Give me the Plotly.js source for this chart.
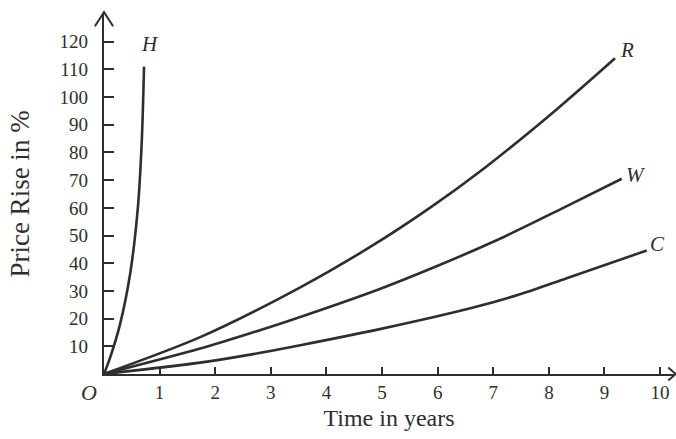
<!DOCTYPE html>
<html>
<head>
<meta charset="utf-8">
<script src="https://cdn.plot.ly/plotly-3.0.1.min.js"></script>
<style>html,body{margin:0;padding:0;background:#fff;}#chart{width:676px;height:439px;}</style>
</head>
<body>
<div id="chart"></div>
<script>
// Curve data (time in years, price rise in %)
const hX = [0, 0.11, 0.29, 0.47, 0.61, 0.68, 0.72];
const hY = [0, 5.9, 18.1, 36.2, 60.3, 84.4, 111];
const rX = [0, 1.73, 3.53, 4.78, 5.86, 6.85, 8.16, 9.19];
const rY = [0, 13.3, 31.3, 45.8, 60, 74.5, 95.9, 114];
const wX = [0, 1.73, 2.63, 3.53, 4.96, 5.86, 7.06, 8.26, 9.31];
const wY = [0, 9.2, 14.7, 20.6, 30.7, 37.9, 48.3, 60, 70.5];
const cX = [0, 1.73, 2.63, 3.53, 4.96, 6.64, 7.48, 8.32, 9.76];
const cY = [0, 4.1, 7.0, 10.4, 16.2, 24, 28.8, 34.6, 44.6];
const curveNames = ["H", "R", "W", "C"];
const xTicks = [1, 2, 3, 4, 5, 6, 7, 8, 9, 10];
const yTicks = [10, 20, 30, 40, 50, 60, 70, 80, 90, 100, 110, 120];

const ink = "#2e2e2e";
const serif = "'Liberation Serif', 'DejaVu Serif', serif";
const series = [[hX, hY], [rX, rY], [wX, wY], [cX, cY]];

const traces = series.map((s, i) => ({
  x: s[0], y: s[1], name: curveNames[i], type: "scatter", mode: "lines",
  line: {color: ink, width: 2.6, shape: "spline", smoothing: 0.8},
  hoverinfo: "skip", showlegend: false, cliponaxis: false
}));

// label positions: just beyond each curve's end
const labelPos = [
  {x: hX[hX.length-1] + 0.1, y: hY[hY.length-1] + 8},
  {x: rX[rX.length-1] + 0.22, y: rY[rY.length-1] + 3},
  {x: wX[wX.length-1] + 0.26, y: wY[wY.length-1] + 1.5},
  {x: cX[cX.length-1] + 0.2, y: cY[cY.length-1] + 2.5}
];
const annotations = curveNames.map((n, i) => ({
  x: labelPos[i].x, y: labelPos[i].y, xref: "x", yref: "y", text: n,
  showarrow: false, font: {family: serif, size: 21, color: ink, style: "italic"}
}));
annotations.push({
  x: 0, y: 0, xref: "x", yref: "y", text: "O", showarrow: false,
  xshift: -15, yshift: -18, font: {family: serif, size: 22, color: ink, style: "italic"}
});

const shapes = [
  // y axis arrowhead
  {type: "path", xref: "paper", yref: "paper",
   path: "M -0.016 0.966 L 0 1.005 L 0.016 0.966",
   line: {color: ink, width: 2}},
  // x axis arrowhead
  {type: "path", xref: "paper", yref: "paper",
   path: "M 0.99 0.018 L 1.003 0 L 0.99 -0.018",
   line: {color: ink, width: 2}}
];

const layout = {
  width: 676, height: 439,
  margin: {l: 104, r: 2, t: 14, b: 65},
  paper_bgcolor: "#fff", plot_bgcolor: "#fff",
  font: {family: serif, color: ink},
  showlegend: false,
  xaxis: {
    range: [0, 10.25], showgrid: false, zeroline: false,
    showline: true, linecolor: ink, linewidth: 2.2,
    ticks: "inside", ticklen: 7, tickwidth: 2, tickcolor: ink,
    tickvals: xTicks, ticktext: xTicks.map(String),
    tickfont: {family: serif, size: 19, color: ink},
    title: {text: "Time in years", font: {family: serif, size: 24, color: ink}, standoff: 7}
  },
  yaxis: {
    range: [0, 130], showgrid: false, zeroline: false,
    showline: true, linecolor: ink, linewidth: 2.2,
    ticks: "inside", ticklen: 10, tickwidth: 2, tickcolor: ink,
    tickvals: yTicks, ticktext: yTicks.map(String),
    ticklabelstandoff: 10,
    tickfont: {family: serif, size: 19, color: ink},
    title: {text: "Price Rise in %", font: {family: serif, size: 27, color: ink}, standoff: 22}
  },
  annotations: annotations,
  shapes: shapes
};

Plotly.newPlot("chart", traces, layout, {staticPlot: true, displayModeBar: false});
</script>
</body>
</html>
